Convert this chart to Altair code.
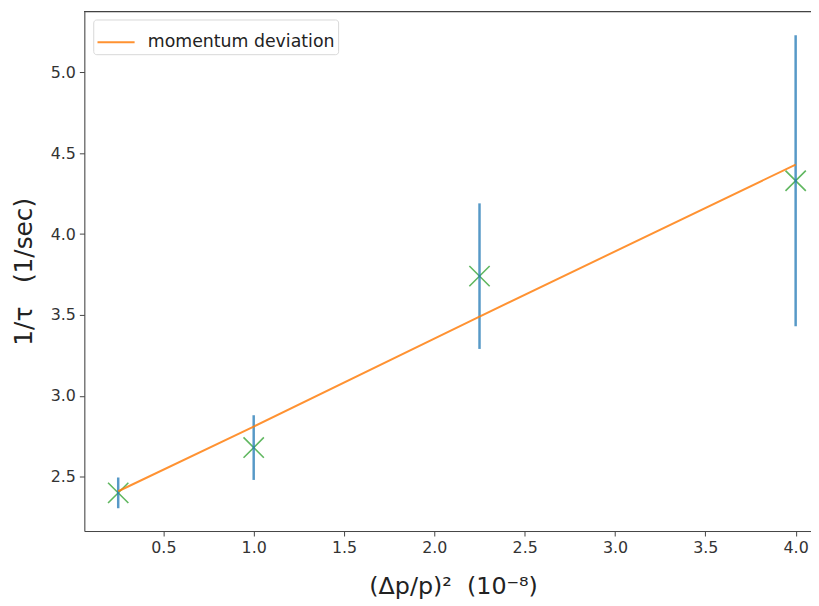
import altair as alt
import pandas as pd

# data
x_vals = [0.25, 1.0, 2.25, 4.0]
y_vals = [2.40, 2.68, 3.74, 4.33]
y_err = [0.095, 0.20, 0.45, 0.90]
fit_x = [0.25, 1.0, 2.25, 4.0]
fit_y = [2.41, 2.81, 3.49, 4.43]
series_name = ["momentum deviation"]
x_ticks = [0.5, 1.0, 1.5, 2.0, 2.5, 3.0, 3.5, 4.0]
y_ticks = [2.5, 3.0, 3.5, 4.0, 4.5, 5.0]

pts = pd.DataFrame({
    "x": x_vals,
    "y": y_vals,
    "lo": [v - e for v, e in zip(y_vals, y_err)],
    "hi": [v + e for v, e in zip(y_vals, y_err)],
})
fit = pd.DataFrame({"x": fit_x, "y": fit_y, "series": series_name * len(fit_x)})

W, H = 733, 524
xscale = alt.Scale(domain=[0.0625, 4.085], nice=False, zero=False)
yscale = alt.Scale(domain=[2.164, 5.376], nice=False, zero=False)

FONT = "DejaVu Sans"
NB = "\u00a0"

xaxis = alt.Axis(
    values=x_ticks, format=".1f", title=f"(Δp/p)²{NB*2}(10⁻⁸)",
    titleFont=FONT, titleFontSize=24, titleFontWeight="normal", titleColor="#222",
    titleX=372, titleY=56, titleBaseline="middle",
    labelFont=FONT, labelFontSize=16, labelColor="#333", labelPadding=4,
    tickSize=5, tickColor="#444", domainColor="#444", grid=False,
)
yaxis = alt.Axis(
    values=y_ticks, format=".1f", title=f"1/τ{NB*3}(1/sec)",
    titleFont=FONT, titleFontSize=25, titleFontWeight="normal", titleColor="#222",
    titleX=-61, titleY=H / 2, titleAngle=270, titleAlign="center", titleBaseline="middle",
    labelFont=FONT, labelFontSize=16, labelColor="#333", labelPadding=4,
    tickSize=5, tickColor="#444", domainColor="#444", grid=False,
)

x_path = "M-1,-1L1,1M-1,1L1,-1"

markers = alt.Chart(pts).mark_point(
    shape=x_path, filled=False, size=420, strokeWidth=1.6, color="#2ca02c", opacity=0.75
).encode(
    x=alt.X("x:Q", scale=xscale, axis=xaxis),
    y=alt.Y("y:Q", scale=yscale, axis=yaxis),
)

errbars = alt.Chart(pts).mark_rule(strokeWidth=2.5, color="#1f77b4", opacity=0.75).encode(
    x=alt.X("x:Q", scale=xscale),
    y=alt.Y("lo:Q", scale=yscale),
    y2="hi:Q",
)

line = alt.Chart(fit).mark_line(strokeWidth=2, opacity=0.85).encode(
    x=alt.X("x:Q", scale=xscale),
    y=alt.Y("y:Q", scale=yscale),
    color=alt.Color(
        "series:N",
        scale=alt.Scale(domain=series_name, range=["#ff7f0e"]),
        legend=alt.Legend(
            title=None, orient="none", legendX=9, legendY=8,
            symbolType="stroke", symbolSize=1400, symbolStrokeWidth=2,
            labelFont=FONT, labelFontSize=17.5, labelColor="#222", labelOffset=12, labelLimit=0,
            padding=3, strokeColor="#d8d8d8", fillColor="white", cornerRadius=3,
        ),
    ),
)

# top frame line (right side of the axes box falls outside the picture)
top = alt.Chart(pts).mark_rule(color="#444", strokeWidth=1).encode(
    x=alt.value(0), x2=alt.value(W), y=alt.value(0)
)

chart = alt.layer(markers, errbars, line, top).properties(
    width=W, height=H,
    autosize=alt.AutoSizeParams(type="none"),
    padding={"left": 77, "top": 1, "right": 0, "bottom": 70},
).configure_view(stroke=None).configure(font=FONT)

chart.save("out.html", embed_options={"renderer": "svg", "actions": False})
